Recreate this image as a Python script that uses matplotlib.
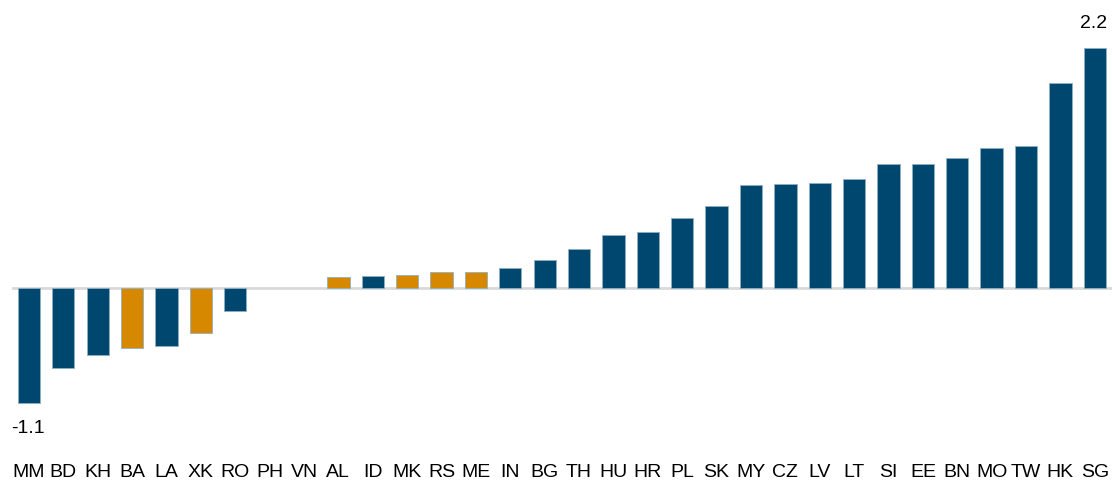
import matplotlib.pyplot as plt

plt.rcParams["font.family"] = ["Liberation Sans", "DejaVu Sans"]

countries = ["MM", "BD", "KH", "BA", "LA", "XK", "RO", "PH", "VN", "AL",
             "ID", "MK", "RS", "ME", "IN", "BG", "TH", "HU", "HR", "PL",
             "SK", "MY", "CZ", "LV", "LT", "SI", "EE", "BN", "MO", "TW",
             "HK", "SG"]
values = [-1.05, -0.73, -0.61, -0.55, -0.53, -0.41, -0.21, 0.0, 0.0, 0.10,
          0.11, 0.12, 0.15, 0.15, 0.18, 0.26, 0.36, 0.49, 0.51, 0.64,
          0.75, 0.94, 0.95, 0.96, 1.00, 1.14, 1.14, 1.19, 1.28, 1.30,
          1.88, 2.2]
highlight = ["BA", "XK", "AL", "MK", "RS", "ME"]
min_label = "-1.1"
max_label = "2.2"

BLUE = "#00476f"
ORANGE = "#d68800"

fig = plt.figure(figsize=(11.12, 4.8), dpi=100)
n = len(countries)
left_px = 11.75
ax = fig.add_axes([left_px / 1112, 24 / 480, (1112 - left_px) / 1112, 456 / 480])

colors = [ORANGE if c in highlight else BLUE for c in countries]
x = list(range(n))
edges = [0.6 if v != 0 else 0 for v in values]
ax.bar(x, values, width=0.65, color=colors, edgecolor="#8fb0c4",
       linewidth=edges, zorder=2)
ax.axhline(0, color="#d9d9d9", linewidth=2, zorder=1)

ax.set_xlim(-0.5, n - 0.5)
ax.set_ylim(-1.54, 2.64)
ax.set_xticks(x)
ax.set_xticklabels(countries, fontsize=14)
ax.tick_params(axis="x", length=0, pad=6)
ax.set_yticks([])
for s in ax.spines.values():
    s.set_visible(False)

# labels for min and max
i_min = values.index(min(values))
i_max = values.index(max(values))
ax.annotate(max_label, (x[i_max], values[i_max]), xytext=(-1, 17.5),
            textcoords="offset points", ha="center", va="center", fontsize=14)
ax.annotate(min_label, (x[i_min], values[i_min]), xytext=(-1, -19),
            textcoords="offset points", ha="center", va="center", fontsize=14)

fig.savefig("out.png", dpi=100)
